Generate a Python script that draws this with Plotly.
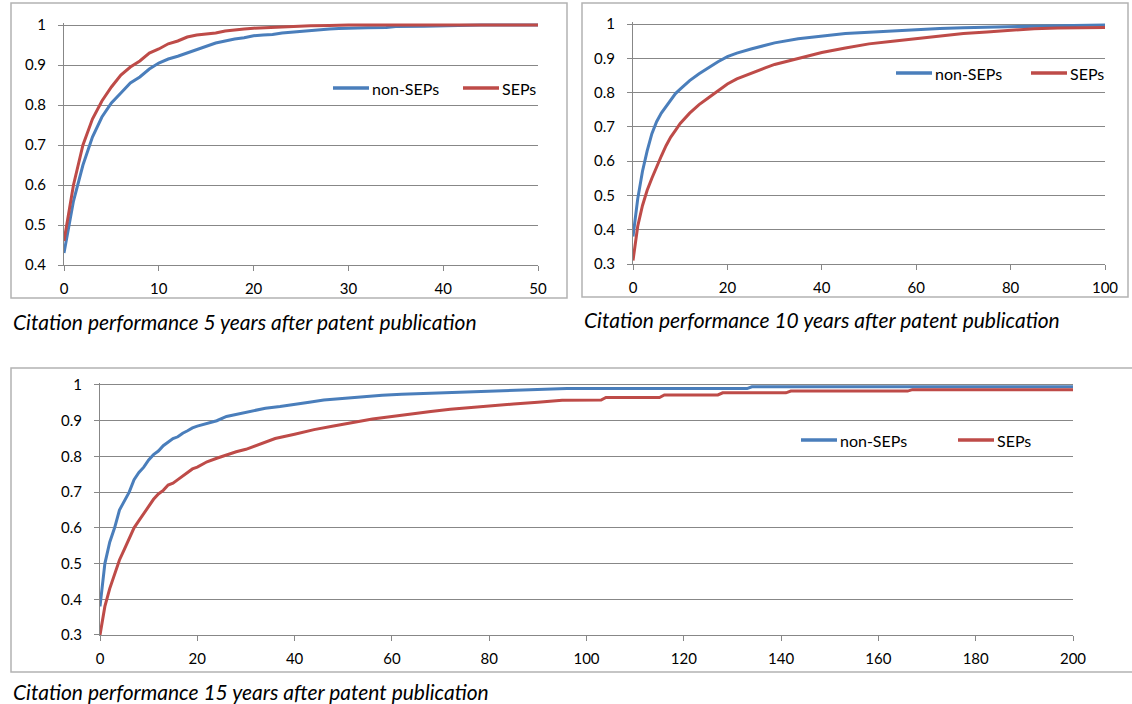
import plotly.graph_objects as go

# ---------------- data ----------------
# 5 years after publication
x5_non = [0,1,2,3,4,5,6,7,8,9,10,11,12,13,14,15,16,17,18,19,20,21,22,23,24,25,26,27,28,29,30,32,34,35,38,40,42,44,50]
y5_non = [0.43,0.56,0.65,0.72,0.77,0.805,0.83,0.855,0.87,0.89,0.905,0.915,0.922,0.93,0.938,0.947,0.955,0.96,0.965,0.968,
          0.973,0.975,0.976,0.98,0.982,0.985,0.986,0.989,0.99,0.991,0.992,0.993,0.994,0.996,0.997,0.998,0.999,1.0,1.0]
x5_sep = [0,1,2,3,4,5,6,7,8,9,10,11,12,13,14,15,16,17,18,19,20,22,24,26,28,30,50]
y5_sep = [0.46,0.6,0.7,0.765,0.81,0.845,0.875,0.895,0.91,0.93,0.94,0.953,0.96,0.97,0.975,0.978,0.98,0.985,0.988,0.99,
          0.992,0.994,0.997,0.998,0.999,1.0,1.0]

# 10 years after publication
x10_non = [0,1,2,3,4,5,6,7,8,9,10,12,14,16,18,20,22,25,28,30,35,40,45,50,55,60,65,70,75,80,90,100]
y10_non = [0.38,0.49,0.57,0.63,0.68,0.715,0.74,0.76,0.78,0.797,0.81,0.835,0.855,0.873,0.89,0.905,0.915,0.927,0.938,0.945,
           0.957,0.965,0.972,0.976,0.98,0.984,0.987,0.989,0.991,0.993,0.995,0.997]
x10_sep = [0,1,2,3,4,5,6,7,8,9,10,12,14,16,18,20,22,25,28,30,35,40,45,50,55,60,65,70,75,80,85,90,100]
y10_sep = [0.31,0.41,0.47,0.515,0.55,0.585,0.615,0.645,0.67,0.69,0.71,0.74,0.765,0.785,0.805,0.825,0.84,0.857,0.872,0.882,
           0.9,0.917,0.93,0.942,0.95,0.958,0.965,0.972,0.977,0.982,0.986,0.988,0.99]

# 15 years after publication
x15_non = [0,1,2,3,4,5,6,7,8,9,10,11,12,13,14,15,16,17,18,19,20,22,24,26,28,30,32,34,37,40,43,46,50,54,58,62,66,70,75,80,
           85,90,96,133,134,200]
y15_non = [0.38,0.5,0.56,0.6,0.65,0.675,0.7,0.735,0.755,0.77,0.79,0.805,0.815,0.83,0.84,0.85,0.855,0.865,0.872,0.88,
           0.885,0.893,0.9,0.912,0.918,0.925,0.93,0.935,0.94,0.947,0.952,0.958,0.963,0.968,0.971,0.974,0.976,0.978,0.98,
           0.984,0.986,0.988,0.99,0.99,0.995,0.995]
x15_sep = [0,1,2,3,4,5,6,7,8,9,10,11,12,13,14,15,16,17,18,19,20,22,24,26,28,30,33,36,40,44,48,52,56,60,64,68,72,76,80,
           85,90,95,103,104,115,116,127,128,141,142,166,167,200]
y15_sep = [0.3,0.38,0.43,0.47,0.51,0.54,0.57,0.6,0.62,0.64,0.66,0.68,0.695,0.705,0.72,0.725,0.735,0.745,0.755,0.765,
           0.77,0.785,0.795,0.805,0.813,0.82,0.835,0.85,0.862,0.875,0.885,0.895,0.905,0.912,0.92,0.926,0.932,0.937,0.942,
           0.947,0.952,0.957,0.958,0.965,0.965,0.972,0.972,0.978,0.978,0.983,0.983,0.987,0.987]

series_names = ["non-SEPs", "SEPs"]
captions = ["Citation performance 5 years after patent publication",
            "Citation performance 10 years after patent publication",
            "Citation performance 15 years after patent publication"]

yticks_a = [0.4, 0.5, 0.6, 0.7, 0.8, 0.9, 1.0]
yticklabels_a = ["0.4", "0.5", "0.6", "0.7", "0.8", "0.9", "1"]
yticks_b = [0.3, 0.4, 0.5, 0.6, 0.7, 0.8, 0.9, 1.0]
yticklabels_b = ["0.3", "0.4", "0.5", "0.6", "0.7", "0.8", "0.9", "1"]
xticks_5 = [0, 10, 20, 30, 40, 50]
xticks_10 = [0, 20, 40, 60, 80, 100]
xticks_15 = [0, 20, 40, 60, 80, 100, 120, 140, 160, 180, 200]

# ---------------- style ----------------
W, H = 1132, 704
BLUE = "#4A7EBB"
RED = "#BE4B48"
COLORS = [BLUE, RED]
GRID = "#878787"
BOX = "#B3B3B3"
FONT = "Lato"

def px(x):
    return x / W

def py(y):
    return 1 - y / H

fig = go.Figure()

def add_pair(xs_n, ys_n, xs_s, ys_s, xa, ya):
    fig.add_trace(go.Scatter(x=xs_n, y=ys_n, mode="lines", name=series_names[0], showlegend=False,
                             line=dict(color=BLUE, width=3), xaxis=xa, yaxis=ya))
    fig.add_trace(go.Scatter(x=xs_s, y=ys_s, mode="lines", name=series_names[1], showlegend=False,
                             line=dict(color=RED, width=3), xaxis=xa, yaxis=ya))

add_pair(x5_non, y5_non, x5_sep, y5_sep, "x", "y")
add_pair(x10_non, y10_non, x10_sep, y10_sep, "x2", "y2")
add_pair(x15_non, y15_non, x15_sep, y15_sep, "x3", "y3")

tickfont = dict(family=FONT, size=15, color="#000000")

def xaxis(domain, rng, ticks, anchor):
    return dict(domain=domain, range=rng, tickmode="array", tickvals=ticks, ticktext=[str(t) for t in ticks],
                showgrid=False, zeroline=False, showline=True, linecolor=GRID, linewidth=1,
                ticks="outside", ticklen=5, tickcolor=GRID, tickfont=tickfont, anchor=anchor,
                ticklabelstandoff=5, fixedrange=True, automargin=False)

def yaxis(domain, rng, ticks, labels, anchor):
    return dict(domain=domain, range=rng, tickmode="array", tickvals=ticks, ticktext=labels,
                showgrid=True, gridcolor=GRID, gridwidth=1, zeroline=False, showline=True,
                linecolor=GRID, linewidth=1, ticks="outside", ticklen=5, tickcolor=GRID,
                tickfont=tickfont, anchor=anchor, ticklabelstandoff=9, fixedrange=True, automargin=False)

tl_top = 25 - 0.006 * 400
tr_top = 24 - 0.006 * (240 / 0.7)
b_top = 385 - 0.006 * (250 / 0.7)

fig.update_layout(
    width=W, height=H, margin=dict(l=0, r=0, t=0, b=0, autoexpand=False),
    paper_bgcolor="white", plot_bgcolor="white",
    font=dict(family=FONT, size=15, color="#000000"),
    xaxis=xaxis([px(64), px(538)], [0, 50], xticks_5, "y"),
    yaxis=yaxis([py(265), py(tl_top)], [0.4, 1.006], yticks_a, yticklabels_a, "x"),
    xaxis2=xaxis([px(633), px(1105)], [0, 100], xticks_10, "y2"),
    yaxis2=yaxis([py(264), py(tr_top)], [0.3, 1.006], yticks_b, yticklabels_b, "x2"),
    xaxis3=xaxis([px(100), px(1073)], [0, 200], xticks_15, "y3"),
    yaxis3=yaxis([py(635), py(b_top)], [0.3, 1.006], yticks_b, yticklabels_b, "x3"),
    showlegend=False,
)

# chart borders
boxes = [(11, 3, 567, 298), (582, 3, 1128, 297), (11, 368, 1140, 672)]
for x0, y0, x1, y1 in boxes:
    fig.add_shape(type="rect", xref="paper", yref="paper", x0=px(x0), x1=px(x1), y0=py(y0), y1=py(y1),
                  line=dict(color=BOX, width=1.5), fillcolor="rgba(0,0,0,0)", layer="below")

# legends (line sample + label) for each panel
legend_pos = [([333, 463], 88), ([896, 1031], 73), ([801, 958], 440)]
for starts, ly in legend_pos:
    for name, color, sx in zip(series_names, COLORS, starts):
        fig.add_shape(type="line", xref="paper", yref="paper", x0=px(sx), x1=px(sx + 36), y0=py(ly), y1=py(ly),
                      line=dict(color=color, width=3.5))
        fig.add_annotation(text=name, xref="paper", yref="paper", x=px(sx + 37), y=py(ly),
                           xanchor="left", yanchor="middle", showarrow=False,
                           font=dict(family=FONT, size=16, color="#000000"))

# captions
cap_pos = [(11, 321), (582, 319), (11, 691)]
for text, (cx, cy) in zip(captions, cap_pos):
    fig.add_annotation(text="<i>" + text + "</i>", xref="paper", yref="paper", x=px(cx), y=py(cy),
                       xanchor="left", yanchor="middle", showarrow=False,
                       font=dict(family=FONT, size=21, color="#000000"))

fig.write_html("out.html", config={"displayModeBar": False},
               post_script="document.body.style.margin='0';document.body.style.overflow='hidden';")
